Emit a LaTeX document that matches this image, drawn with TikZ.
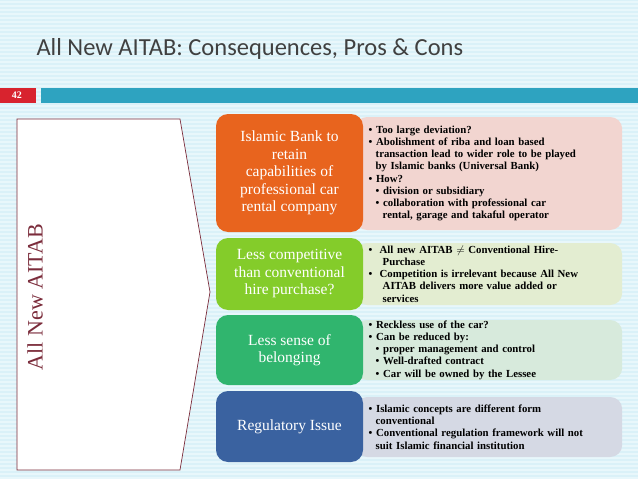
\documentclass[tikz,border=0pt]{standalone}
\usepackage{fontspec}
\setmainfont{Liberation Serif}
\newfontfamily\titlefont{Carlito}
\usetikzlibrary{positioning}
\definecolor{bgblue}{HTML}{DAF1F8}
\definecolor{stripe}{HTML}{E8F7FB}
\definecolor{barteal}{HTML}{2EA3C0}
\definecolor{barred}{HTML}{D8232E}
\definecolor{chevred}{HTML}{7B2C3B}
\definecolor{cOrange}{HTML}{E8641E}
\definecolor{cGreen}{HTML}{84CC2A}
\definecolor{cTeal}{HTML}{30B56E}
\definecolor{cBlue}{HTML}{3A62A0}
\definecolor{lOrange}{HTML}{F2D5D0}
\definecolor{lGreen}{HTML}{E3EDD1}
\definecolor{lTeal}{HTML}{D7EADC}
\definecolor{lBlue}{HTML}{D5D9E4}
\tikzset{
  topic/.style={rounded corners=12pt,text=white,align=center,
    minimum width=147pt,inner sep=2pt,font=\fontsize{15.5}{17.5}\selectfont},
  detail/.style={rounded corners=12pt,anchor=west,minimum width=267pt,
    text width=262pt,inner sep=0pt,font=\bfseries\fontsize{10.8}{12.2}\selectfont},
}
\newcommand{\bl}{\textbullet\ }
\begin{document}
\begin{tikzpicture}[x=1pt,y=-1pt]
\useasboundingbox (0,0) rectangle (638,479);
\fill[bgblue] (0,0) rectangle (638,479);
\foreach \y in {2,6,...,478} \draw[stripe,line width=1.5pt] (0,\y) -- (638,\y);

% title and bar
\node[anchor=west,text=black!75,font=\titlefont\fontsize{24.5}{24.5}\selectfont] (title) at (33,49) {All New AITAB: Consequences, Pros \& Cons};
\fill[barred] (0,88) rectangle (36,103);
\node[text=white,font=\bfseries\fontsize{10}{10}\selectfont] (num) at (17,95.5) {42};
\fill[barteal] (41,88) rectangle (638,103);

% chevron
\draw[chevred,fill=white,line width=0.7pt] (17,119) -- (180,119) -- (210,292) -- (180,470) -- (17,470) -- cycle;
\node[rotate=90,text=chevred,font=\fontsize{22}{22}\selectfont] (main) at (35,297) {All New AITAB};

% detail boxes
\node[detail,fill=lOrange,minimum height=113pt] (d1) at (355,173.5) {\hspace*{11pt}\parbox{252pt}{
  \bl Too large deviation?\\
  \bl Abolishment of riba and loan based\\\hspace*{7pt}transaction lead to wider role to be played\\\hspace*{7pt}by Islamic banks (Universal Bank)\\
  \bl How?\\
  \hspace*{7pt}\bl division or subsidiary\\
  \hspace*{7pt}\bl collaboration with professional car\\\hspace*{14pt}rental, garage and takaful operator}};
\node[detail,fill=lGreen,minimum height=62pt] (d2) at (355,274) {\hspace*{11pt}\parbox{252pt}{
  \bl\ All new AITAB $\neq$ Conventional Hire-\\\hspace*{14pt}Purchase\\
  \bl\ Competition is irrelevant because All New\\\hspace*{14pt}AITAB delivers more value added or\\\hspace*{14pt}services}};
\node[detail,fill=lTeal,minimum height=60pt] (d3) at (355,350) {\hspace*{11pt}\parbox{252pt}{
  \bl Reckless use of the car?\\
  \bl Can be reduced by:\\
  \hspace*{7pt}\bl proper management and control\\
  \hspace*{7pt}\bl Well-drafted contract\\
  \hspace*{7pt}\bl Car will be owned by the Lessee}};
\node[detail,fill=lBlue,minimum height=60pt] (d4) at (355,427) {\hspace*{11pt}\parbox{252pt}{
  \bl Islamic concepts are different form\\\hspace*{7pt}conventional\\
  \bl Conventional regulation framework will not\\\hspace*{7pt}suit Islamic financial institution}};

% topic boxes
\node[topic,fill=cOrange,minimum height=118pt] (t1) at (289.5,173) {Islamic Bank to\\retain\\capabilities of\\professional car\\rental company};
\node[topic,fill=cGreen,minimum height=72pt] (t2) at (289.5,274) {Less competitive\\than conventional\\hire purchase?};
\node[topic,fill=cTeal,minimum height=70pt] (t3) at (289.5,350) {Less sense of\\belonging};
\node[topic,fill=cBlue,minimum height=71pt] (t4) at (289.5,426.5) {Regulatory Issue};
\end{tikzpicture}
\end{document}
